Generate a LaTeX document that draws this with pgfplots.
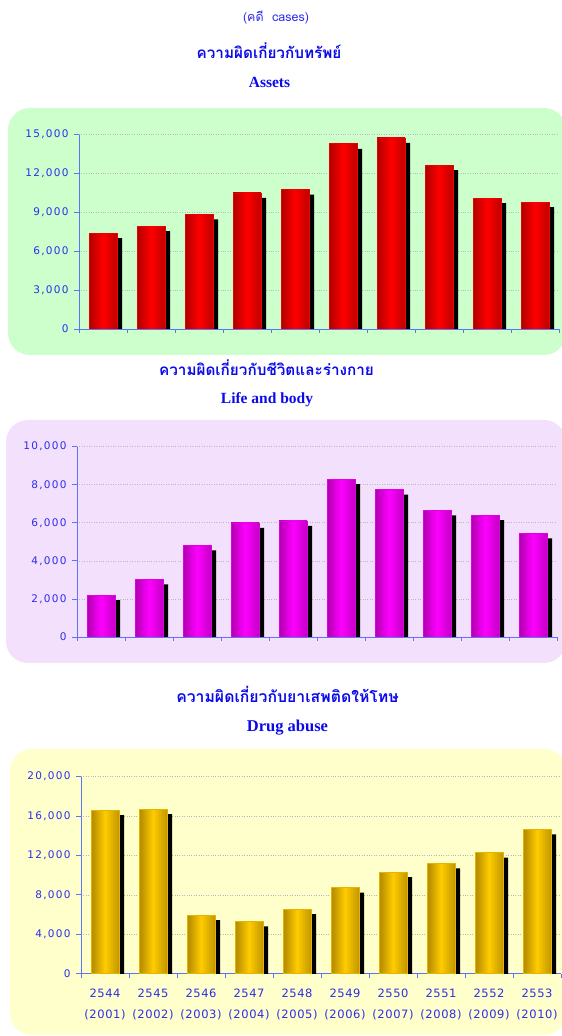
\documentclass[border=0pt]{standalone}
\usepackage{pgfplots}
\pgfplotsset{compat=1.18}
\usepackage{pgfplotstable}
\usepackage{fontspec}
\setmainfont{DejaVu Sans}
\newfontfamily\thaifont[Script=Thai]{Loma}
\newfontfamily\engfont{Liberation Serif}
\newfontfamily\tickfont[LetterSpace=12]{DejaVu Sans}
\newfontfamily\xfont[LetterSpace=5]{DejaVu Sans}

\definecolor{titleblue}{RGB}{10,10,235}
\definecolor{tickblue}{RGB}{45,45,235}
\definecolor{axblue}{RGB}{95,115,245}
\definecolor{bggreen}{RGB}{204,255,204}
\definecolor{bgviolet}{RGB}{243,224,252}
\definecolor{bgyellow}{RGB}{255,255,204}

% cases per year, 2544 (2001) ... 2553 (2010)
\pgfplotstableread{
x v
0 7400
1 7950
2 8850
3 10500
4 10750
5 14300
6 14750
7 12650
8 10100
9 9800
}\assets
\pgfplotstableread{
x v
0 2200
1 3030
2 4820
3 6000
4 6100
5 8300
6 7750
7 6650
8 6400
9 5450
}\life
\pgfplotstableread{
x v
0 16600
1 16700
2 5950
3 5300
4 6550
5 8750
6 10300
7 11200
8 12300
9 14650
}\drug

\pgfplotsset{
  panel/.style={
    scale only axis, width=480pt, anchor=south west,
    xmin=-0.5, xmax=9.5, ymin=0,
    axis x line=bottom, axis y line=left,
    axis line style={-, draw=axblue, line width=0.9pt},
    tick align=outside,
    major tick length=5pt, minor tick length=4pt,
    tick style={draw=axblue, line width=0.8pt},
    major x tick style={draw=none},
    xtick={0,...,9}, xticklabels={},
    minor xtick={-0.5,0.5,...,9.5},
    ymajorgrids, grid style={dotted, gray!55, line width=0.7pt},
    scaled y ticks=false,
    yticklabel style={font=\tickfont\fontsize{10.5}{11}\selectfont, text=tickblue, xshift=-2pt},
    /pgf/number format/1000 sep={,},
    /pgf/number format/assume math mode=true,
  },
  shadowbar/.style={ybar, bar width=28pt, bar shift=5pt, fill=black, draw=none, yshift=-5pt},
  redbar/.style={ybar, bar width=28pt, bar shift=0pt, draw={rgb,255:red,235;green,0;blue,0}, line width=0.6pt,
    left color={rgb,255:red,176;green,0;blue,0}, right color={rgb,255:red,190;green,0;blue,0},
    middle color={rgb,255:red,255;green,0;blue,0}},
  pinkbar/.style={ybar, bar width=28pt, bar shift=0pt, draw={rgb,255:red,225;green,0;blue,225}, line width=0.6pt,
    left color={rgb,255:red,176;green,0;blue,176}, right color={rgb,255:red,195;green,0;blue,195},
    middle color={rgb,255:red,255;green,0;blue,255}},
  goldbar/.style={ybar, bar width=28pt, bar shift=0pt, draw={rgb,255:red,230;green,180;blue,0}, line width=0.6pt,
    left color={rgb,255:red,176;green,136;blue,0}, right color={rgb,255:red,192;green,150;blue,0},
    middle color={rgb,255:red,255;green,204;blue,0}},
}

\begin{document}
\begin{tikzpicture}[x=1pt, y=1pt]
\path[use as bounding box] (0,0) rectangle (562,1036);
\clip (0,0) rectangle (562,1036);
\coordinate (p1) at (79,707);
\coordinate (p2) at (77,399);
\coordinate (p3) at (81,62.3);

% backgrounds
\fill[bggreen, rounded corners=22pt] (8,681) rectangle (566,928);
\fill[bgviolet, rounded corners=22pt] (6,373) rectangle (566,616);
\fill[bgyellow, rounded corners=22pt] (10,1) rectangle (566,287);

% titles
\node[anchor=base, text=tickblue, font=\thaifont\fontsize{12.5}{14}\selectfont] at (276,1014) {(คดี\ \ cases)};
\node[anchor=base, text=titleblue, font=\thaifont\bfseries\fontsize{15.3}{17}\selectfont] at (269,977.5) {ความผิดเกี่ยวกับทรัพย์};
\node[anchor=base, text=titleblue, font=\engfont\bfseries\fontsize{15.5}{17}\selectfont] at (269.5,948.5) {Assets};
\node[anchor=base, text=titleblue, font=\thaifont\bfseries\fontsize{15.3}{17}\selectfont] at (266.5,660) {ความผิดเกี่ยวกับชีวิตและร่างกาย};
\node[anchor=base, text=titleblue, font=\engfont\bfseries\fontsize{15.5}{17}\selectfont] at (267,632) {Life and body};
\node[anchor=base, text=titleblue, font=\thaifont\bfseries\fontsize{15.8}{17}\selectfont] at (287.5,333.3) {ความผิดเกี่ยวกับยาเสพติดให้โทษ};
\node[anchor=base, text=titleblue, font=\engfont\bfseries\fontsize{16.5}{18}\selectfont] at (287.5,304.3) {Drug abuse};

% Assets
\begin{axis}[panel, at={(p1)}, height=194.3pt, ymax=15000, ytick={0,3000,...,15000}]
\addplot[shadowbar] table[x=x, y=v] {\assets};
\pgfplotsinvokeforeach{0,...,9}{
  \addplot[redbar, restrict x to domain=#1:#1] table[x=x, y=v] {\assets};
}
\end{axis}

% Life and body
\begin{axis}[panel, at={(p2)}, height=190.3pt, ymax=10000, ytick={0,2000,...,10000}]
\addplot[shadowbar] table[x=x, y=v] {\life};
\pgfplotsinvokeforeach{0,...,9}{
  \addplot[pinkbar, restrict x to domain=#1:#1] table[x=x, y=v] {\life};
}
\end{axis}

% Drug abuse
\begin{axis}[panel, at={(p3)}, height=197pt, ymax=20000, ytick={0,4000,...,20000},
  xticklabels={{2544\\(2001)},{2545\\(2002)},{2546\\(2003)},{2547\\(2004)},{2548\\(2005)},
    {2549\\(2006)},{2550\\(2007)},{2551\\(2008)},{2552\\(2009)},{2553\\(2010)}},
  xticklabel style={align=center, font=\xfont\fontsize{11.5}{21}\selectfont, text=tickblue, yshift=-7pt}]
\addplot[shadowbar] table[x=x, y=v] {\drug};
\pgfplotsinvokeforeach{0,...,9}{
  \addplot[goldbar, restrict x to domain=#1:#1] table[x=x, y=v] {\drug};
}
\end{axis}
\end{tikzpicture}
\end{document}
